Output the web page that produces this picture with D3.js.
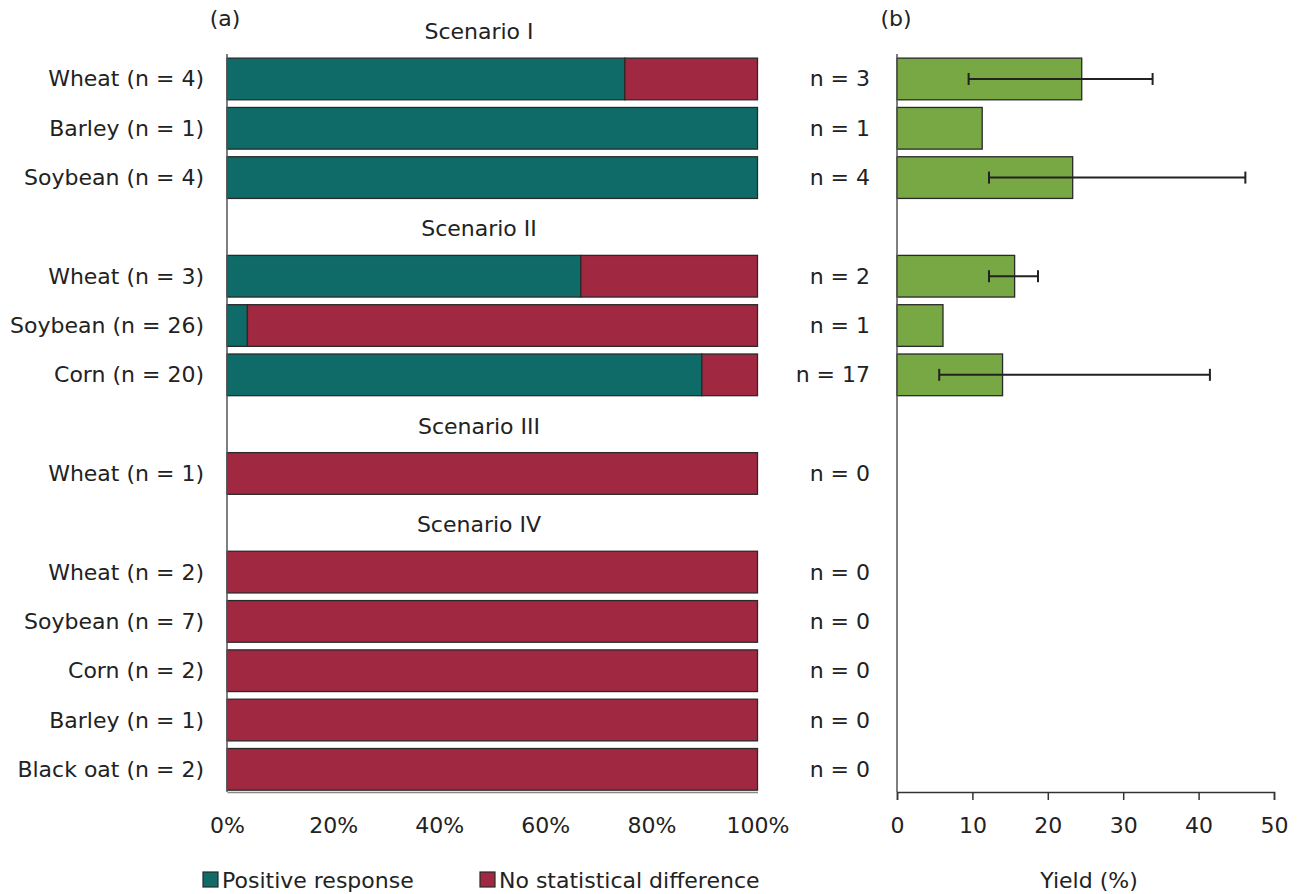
<!DOCTYPE html>
<html>
<head>
<meta charset="utf-8">
<script src="https://cdn.jsdelivr.net/npm/d3@7"></script>
<style>
  html, body { margin: 0; padding: 0; background: #fff; }
  svg text { font-family: "DejaVu Sans", sans-serif; fill: #222; }
</style>
</head>
<body>
<svg id="chart" width="1302" height="894"></svg>
<script>
// Scenario groups and the crops reported under each
const scenarios = ["Scenario I", "Scenario II", "Scenario III", "Scenario IV"];
const cropScenario = [0, 0, 0, 1, 1, 1, 2, 3, 3, 3, 3, 3];
const cropNames = ["Wheat", "Barley", "Soybean", "Wheat", "Soybean", "Corn", "Wheat", "Wheat", "Soybean", "Corn", "Barley", "Black oat"];
const cropN = [4, 1, 4, 3, 26, 20, 1, 2, 7, 2, 1, 2];
// Share of studies with a positive response (%); the rest showed no statistical difference
const positivePct = [75, 100, 100, 66.7, 3.85, 89.5, 0, 0, 0, 0, 0, 0];
// Yield response (%) with its range
const yieldN = [3, 1, 4, 2, 1, 17, 0, 0, 0, 0, 0, 0];
const yieldMean = [24.5, 11.3, 23.3, 15.6, 6.1, 14.0, null, null, null, null, null, null];
const yieldLow = [9.5, null, 12.2, 12.2, null, 5.6, null, null, null, null, null, null];
const yieldHigh = [33.9, null, 46.2, 18.7, null, 41.5, null, null, null, null, null, null];
const pctTicks = [0, 20, 40, 60, 80, 100];
const yieldTicks = [0, 10, 20, 30, 40, 50];
const legendLabels = ["Positive response", "No statistical difference"];

const colPositive = "#0e6b67";
const colNone = "#a02840";
const colYield = "#77a843";
const colStroke = "#2a2a2a";
const fs = 22;

// Build ordered slots: a header slot per scenario followed by its crops
const slots = [];
scenarios.forEach((s, si) => {
  slots.push({ key: "h" + si, header: true, label: s });
  cropNames.forEach((c, i) => {
    if (cropScenario[i] === si) slots.push({ key: "c" + i, header: false, i: i });
  });
});

const svg = d3.select("#chart");
const axisBottom = 792;

const y = d3.scaleBand()
  .domain(slots.map(d => d.key))
  .range([5, 794])
  .paddingInner(0.155)
  .paddingOuter(0.0775);

const xL = d3.scaleLinear().domain([0, 100]).range([227, 757.5]);
const xR = d3.scaleLinear().domain([0, 50]).range([897, 1274]);

const rows = slots.filter(d => !d.header);
const headers = slots.filter(d => d.header);

// ---- Panel (a): stacked percentage bars ----
const gA = svg.append("g");

gA.selectAll("rect.pos").data(rows.filter(d => positivePct[d.i] > 0)).join("rect")
  .attr("x", xL(0))
  .attr("y", d => y(d.key))
  .attr("width", d => xL(positivePct[d.i]) - xL(0))
  .attr("height", y.bandwidth())
  .attr("fill", colPositive)
  .attr("stroke", colStroke).attr("stroke-width", 1.3);

gA.selectAll("rect.none").data(rows.filter(d => positivePct[d.i] < 100)).join("rect")
  .attr("x", d => xL(positivePct[d.i]))
  .attr("y", d => y(d.key))
  .attr("width", d => xL(100) - xL(positivePct[d.i]))
  .attr("height", y.bandwidth())
  .attr("fill", colNone)
  .attr("stroke", colStroke).attr("stroke-width", 1.3);

// crop labels
gA.selectAll("text.crop").data(rows).join("text")
  .attr("x", 204)
  .attr("y", d => y(d.key) + y.bandwidth() / 2)
  .attr("text-anchor", "end")
  .attr("dominant-baseline", "central")
  .attr("font-size", fs)
  .text(d => `${cropNames[d.i]} (n = ${cropN[d.i]})`);

// scenario headers
gA.selectAll("text.hdr").data(headers).join("text")
  .attr("x", 479)
  .attr("y", d => y(d.key) + y.bandwidth() / 2 + 2)
  .attr("text-anchor", "middle")
  .attr("dominant-baseline", "central")
  .attr("font-size", fs)
  .text(d => d.label);

// axes of panel (a)
gA.append("line")
  .attr("x1", xL(0)).attr("x2", xL(0))
  .attr("y1", 54).attr("y2", axisBottom)
  .attr("stroke", "#555").attr("stroke-width", 1.5);

const axA = d3.axisBottom(xL).tickValues(pctTicks).tickFormat(d => d + "%").tickSize(0).tickPadding(25);
const gAxA = gA.append("g").attr("transform", `translate(0,${axisBottom})`).call(axA);
gAxA.select(".domain").attr("stroke", "#888").attr("stroke-width", 1.5);
gAxA.selectAll("text").attr("font-size", fs).attr("font-family", "DejaVu Sans, sans-serif").attr("fill", "#222");

// ---- Panel (b): yield bars with range ----
const gB = svg.append("g");

const withYield = rows.filter(d => yieldMean[d.i] != null);

gB.selectAll("rect.yield").data(withYield).join("rect")
  .attr("x", xR(0))
  .attr("y", d => y(d.key))
  .attr("width", d => xR(yieldMean[d.i]) - xR(0))
  .attr("height", y.bandwidth())
  .attr("fill", colYield)
  .attr("stroke", colStroke).attr("stroke-width", 1.3);

const withRange = withYield.filter(d => yieldLow[d.i] != null);
const eb = gB.selectAll("g.err").data(withRange).join("g")
  .attr("transform", d => `translate(0,${y(d.key) + y.bandwidth() / 2})`);
eb.append("line")
  .attr("x1", d => xR(yieldLow[d.i])).attr("x2", d => xR(yieldHigh[d.i]))
  .attr("stroke", "#222").attr("stroke-width", 2);
eb.append("line")
  .attr("x1", d => xR(yieldLow[d.i])).attr("x2", d => xR(yieldLow[d.i]))
  .attr("y1", -6).attr("y2", 6)
  .attr("stroke", "#222").attr("stroke-width", 2);
eb.append("line")
  .attr("x1", d => xR(yieldHigh[d.i])).attr("x2", d => xR(yieldHigh[d.i]))
  .attr("y1", -6).attr("y2", 6)
  .attr("stroke", "#222").attr("stroke-width", 2);

// n labels
gB.selectAll("text.n").data(rows).join("text")
  .attr("x", 870)
  .attr("y", d => y(d.key) + y.bandwidth() / 2)
  .attr("text-anchor", "end")
  .attr("dominant-baseline", "central")
  .attr("font-size", fs)
  .text(d => `n = ${yieldN[d.i]}`);

gB.append("line")
  .attr("x1", xR(0)).attr("x2", xR(0))
  .attr("y1", 54).attr("y2", axisBottom)
  .attr("stroke", "#555").attr("stroke-width", 1.5);

const axB = d3.axisBottom(xR).tickValues(yieldTicks).tickSize(8).tickPadding(17);
const gAxB = gB.append("g").attr("transform", `translate(0,${axisBottom})`).call(axB);
gAxB.select(".domain").attr("stroke", "#333").attr("stroke-width", 1.5);
gAxB.selectAll(".tick line").attr("stroke", "#333").attr("stroke-width", 1.5);
gAxB.selectAll("text").attr("font-size", fs).attr("font-family", "DejaVu Sans, sans-serif").attr("fill", "#222");

svg.append("text")
  .attr("x", 1089).attr("y", 880)
  .attr("text-anchor", "middle").attr("dominant-baseline", "central")
  .attr("font-size", fs)
  .text("Yield (%)");

// panel tags
svg.append("text").attr("x", 225).attr("y", 18)
  .attr("text-anchor", "middle").attr("dominant-baseline", "central")
  .attr("font-size", fs).text("(a)");
svg.append("text").attr("x", 896).attr("y", 18)
  .attr("text-anchor", "middle").attr("dominant-baseline", "central")
  .attr("font-size", fs).text("(b)");

// legend
const legend = svg.append("g");
const legX = [203, 480];
const legCol = [colPositive, colNone];
legendLabels.forEach((lab, k) => {
  legend.append("rect")
    .attr("x", legX[k]).attr("y", 872).attr("width", 15).attr("height", 15)
    .attr("fill", legCol[k]).attr("stroke", colStroke).attr("stroke-width", 1.2);
  legend.append("text")
    .attr("x", legX[k] + 19).attr("y", 880)
    .attr("dominant-baseline", "central")
    .attr("font-size", fs)
    .text(lab);
});
</script>
</body>
</html>
